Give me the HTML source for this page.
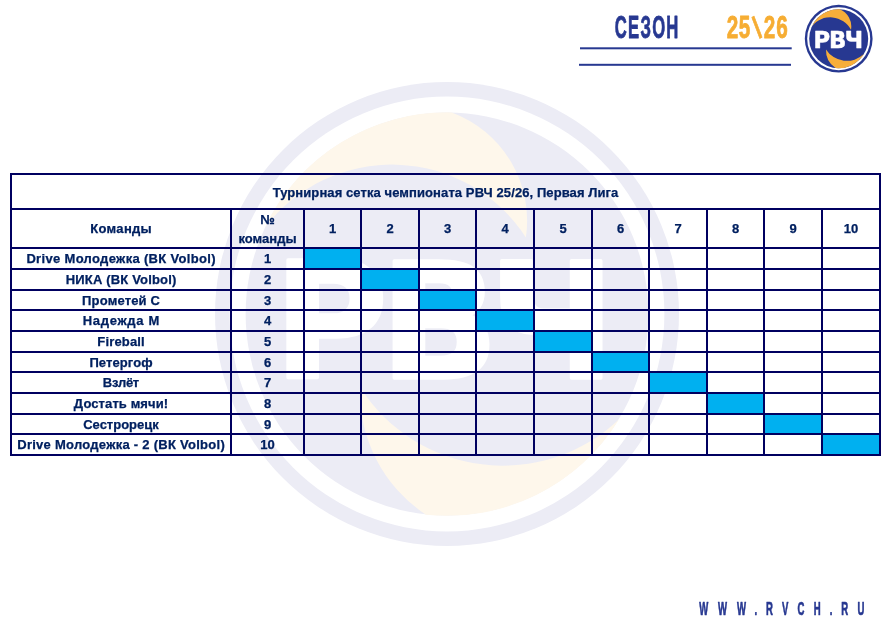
<!DOCTYPE html>
<html><head><meta charset="utf-8"><style>
html,body{margin:0;padding:0;background:#fff;}
body{width:894px;height:630px;position:relative;overflow:hidden;font-family:"Liberation Sans",Arial,sans-serif;}
.l{position:absolute;background:#000060;}
.b{position:absolute;background:#00B0F0;}
.c{position:absolute;display:flex;align-items:center;justify-content:center;font-weight:bold;font-size:13.0px;line-height:13.0px;color:#002060;white-space:nowrap;text-align:center;-webkit-text-stroke:0.25px #002060;}
.two{display:block;line-height:19px;}
svg{position:absolute;left:0;top:0;}
</style></head><body>
<svg width="894" height="630" viewBox="0 0 894 630">
 <g transform="translate(447 314) scale(2.32)"><circle r="100" fill="#ECECF5"/><circle r="93.7" fill="#FFFFFF"/><circle r="86.8" fill="#ECECF5"/>
  <path d="M -78.7 -37 A 87 87 0 0 1 2 -86.9 A 49.7 49.7 0 0 1 34 -33 A 68.8 68.8 0 0 0 -78.7 -37 Z" fill="#FEF7EB"/><path d="M 74.2 45.4 A 87 87 0 0 1 -9.1 86.5 A 63.4 63.4 0 0 1 -37.5 31.5 A 72.9 72.9 0 0 0 74.2 45.4 Z" fill="#FEF7EB"/>
  <text transform="translate(0 27.70) scale(0.9663 1)" x="-77.31 -29.86 18.89" y="0" font-family="'DejaVu Sans', sans-serif" font-weight="bold" font-size="69.48" fill="#FFFFFF" stroke="#FFFFFF" stroke-width="1.5" stroke-linejoin="round">РВЧ</text></g>
</svg>
<div class="b" style="left:305px;top:249px;width:55px;height:19px"></div><div class="b" style="left:362px;top:270px;width:56px;height:19px"></div><div class="b" style="left:420px;top:291px;width:55px;height:18px"></div><div class="b" style="left:477px;top:311px;width:56px;height:19px"></div><div class="b" style="left:535px;top:332px;width:56px;height:19px"></div><div class="b" style="left:593px;top:353px;width:55px;height:18px"></div><div class="b" style="left:650px;top:373px;width:56px;height:19px"></div><div class="b" style="left:708px;top:394px;width:55px;height:19px"></div><div class="b" style="left:765px;top:415px;width:56px;height:18px"></div><div class="b" style="left:823px;top:435px;width:56px;height:19px"></div>
<div class="l" style="left:10px;top:173px;width:871px;height:2px"></div><div class="l" style="left:10px;top:208px;width:871px;height:2px"></div><div class="l" style="left:10px;top:247px;width:871px;height:2px"></div><div class="l" style="left:10px;top:268px;width:871px;height:2px"></div><div class="l" style="left:10px;top:289px;width:871px;height:2px"></div><div class="l" style="left:10px;top:309px;width:871px;height:2px"></div><div class="l" style="left:10px;top:330px;width:871px;height:2px"></div><div class="l" style="left:10px;top:351px;width:871px;height:2px"></div><div class="l" style="left:10px;top:371px;width:871px;height:2px"></div><div class="l" style="left:10px;top:392px;width:871px;height:2px"></div><div class="l" style="left:10px;top:413px;width:871px;height:2px"></div><div class="l" style="left:10px;top:433px;width:871px;height:2px"></div><div class="l" style="left:10px;top:454px;width:871px;height:2px"></div><div class="l" style="left:10px;top:173px;width:2px;height:283px"></div><div class="l" style="left:230px;top:208px;width:2px;height:248px"></div><div class="l" style="left:303px;top:208px;width:2px;height:248px"></div><div class="l" style="left:360px;top:208px;width:2px;height:248px"></div><div class="l" style="left:418px;top:208px;width:2px;height:248px"></div><div class="l" style="left:475px;top:208px;width:2px;height:248px"></div><div class="l" style="left:533px;top:208px;width:2px;height:248px"></div><div class="l" style="left:591px;top:208px;width:2px;height:248px"></div><div class="l" style="left:648px;top:208px;width:2px;height:248px"></div><div class="l" style="left:706px;top:208px;width:2px;height:248px"></div><div class="l" style="left:763px;top:208px;width:2px;height:248px"></div><div class="l" style="left:821px;top:208px;width:2px;height:248px"></div><div class="l" style="left:879px;top:173px;width:2px;height:283px"></div>
<div class="c" style="left:12px;top:175px;width:867px;height:33px;"><span style="letter-spacing:0.09px;margin-left:0.09px;position:relative;top:0.8px">Турнирная сетка чемпионата РВЧ 25/26, Первая Лига</span></div><div class="c" style="left:12px;top:210px;width:218px;height:37px;"><span style="letter-spacing:0.3px;margin-left:0.3px;position:relative;top:0.0px">Команды</span></div><div class="c" style="left:232px;top:210px;width:71px;height:37px;"><span class="two">№<br>команды</span></div><div class="c" style="left:305px;top:210px;width:55px;height:37px;">1</div><div class="c" style="left:362px;top:210px;width:56px;height:37px;">2</div><div class="c" style="left:420px;top:210px;width:55px;height:37px;">3</div><div class="c" style="left:477px;top:210px;width:56px;height:37px;">4</div><div class="c" style="left:535px;top:210px;width:56px;height:37px;">5</div><div class="c" style="left:593px;top:210px;width:55px;height:37px;">6</div><div class="c" style="left:650px;top:210px;width:56px;height:37px;">7</div><div class="c" style="left:708px;top:210px;width:55px;height:37px;">8</div><div class="c" style="left:765px;top:210px;width:56px;height:37px;">9</div><div class="c" style="left:823px;top:210px;width:56px;height:37px;">10</div><div class="c" style="left:12px;top:249px;width:218px;height:19px;"><span style="letter-spacing:0.33px;margin-left:0.33px;position:relative;top:0.0px">Drive Молодежка (ВК Volbol)</span></div><div class="c" style="left:232px;top:249px;width:71px;height:19px;">1</div><div class="c" style="left:12px;top:270px;width:218px;height:19px;"><span style="letter-spacing:0.17px;margin-left:0.17px;position:relative;top:0.0px">НИКА (ВК Volbol)</span></div><div class="c" style="left:232px;top:270px;width:71px;height:19px;">2</div><div class="c" style="left:12px;top:291px;width:218px;height:18px;"><span style="letter-spacing:0.16px;margin-left:0.16px;position:relative;top:0.0px">Прометей С</span></div><div class="c" style="left:232px;top:291px;width:71px;height:18px;">3</div><div class="c" style="left:12px;top:311px;width:218px;height:19px;"><span style="letter-spacing:0.7px;margin-left:0.7px;position:relative;top:0.0px">Надежда М</span></div><div class="c" style="left:232px;top:311px;width:71px;height:19px;">4</div><div class="c" style="left:12px;top:332px;width:218px;height:19px;"><span style="letter-spacing:0.16px;margin-left:0.16px;position:relative;top:0.0px">Fireball</span></div><div class="c" style="left:232px;top:332px;width:71px;height:19px;">5</div><div class="c" style="left:12px;top:353px;width:218px;height:18px;"><span style="letter-spacing:0.1px;margin-left:0.1px;position:relative;top:0.0px">Петергоф</span></div><div class="c" style="left:232px;top:353px;width:71px;height:18px;">6</div><div class="c" style="left:12px;top:373px;width:218px;height:19px;"><span style="letter-spacing:-0.27px;margin-left:-0.27px;position:relative;top:0.0px">Взлёт</span></div><div class="c" style="left:232px;top:373px;width:71px;height:19px;">7</div><div class="c" style="left:12px;top:394px;width:218px;height:19px;"><span style="letter-spacing:0.1px;margin-left:0.1px;position:relative;top:0.0px">Достать мячи!</span></div><div class="c" style="left:232px;top:394px;width:71px;height:19px;">8</div><div class="c" style="left:12px;top:415px;width:218px;height:18px;">Сестрорецк</div><div class="c" style="left:232px;top:415px;width:71px;height:18px;">9</div><div class="c" style="left:12px;top:435px;width:218px;height:19px;"><span style="letter-spacing:0.27px;margin-left:0.27px;position:relative;top:0.0px">Drive Молодежка - 2 (ВК Volbol)</span></div><div class="c" style="left:232px;top:435px;width:71px;height:19px;">10</div>
<svg width="894" height="630" viewBox="0 0 894 630">
 <text transform="translate(0 38.30) scale(0.5184 1)" x="1186.08 1211.63 1235.77 1258.43 1285.17" y="0" font-family="'Liberation Sans', sans-serif" font-weight="bold" font-size="32.20" fill="#273891" stroke="#273891" stroke-width="0.7" vector-effect="non-scaling-stroke" stroke-linejoin="round">СЕЗОН</text>
 <text transform="translate(0 38.30) scale(0.6426 1)" x="1131.13 1149.51 1177.78 1188.55 1207.91" y="0" rotate="0 0 -20 0 0" dy="0 0 1.11 -1.11 0" font-family="'Liberation Sans', sans-serif" font-weight="bold" font-size="32.20" fill="#F6AD33" stroke="#F6AD33" stroke-width="0.7" vector-effect="non-scaling-stroke" stroke-linejoin="round">25\26</text>
 <rect x="580" y="47.3" width="211.7" height="2" fill="#273891"/>
 <rect x="579" y="63.8" width="212" height="2" fill="#273891"/>
 <g transform="translate(838.7 38.7) scale(0.339)"><circle r="100" fill="#273891"/><circle r="93" fill="#FFFFFF"/><circle r="87" fill="#273891"/>
  <path d="M -78.7 -37 A 87 87 0 0 1 3 -86.9 A 55 55 0 0 1 36.3 -26.3 A 69 69 0 0 0 -78.7 -37 Z" fill="#F7AE3A"/><path d="M 74.2 45.4 A 87 87 0 0 1 -9.1 86.5 A 63.4 63.4 0 0 1 -37.5 31.5 A 72.9 72.9 0 0 0 74.2 45.4 Z" fill="#F7AE3A"/>
  <text transform="translate(0 27.70) scale(0.9663 1)" x="-77.31 -29.86 18.89" y="0" font-family="'DejaVu Sans', sans-serif" font-weight="bold" font-size="69.48" fill="#FFFFFF" stroke="#FFFFFF" stroke-width="1.5" stroke-linejoin="round">РВЧ</text></g>
 <text transform="translate(0 614.70) scale(0.5247 1)" x="1332.82 1368.45 1404.66 1438.08 1460.09 1490.55 1519.75 1550.85 1581.29 1603.30 1634.41" y="0" font-family="'Liberation Sans', sans-serif" font-weight="bold" font-size="18.21" fill="#273891" stroke="#273891" stroke-width="0.55" vector-effect="non-scaling-stroke" stroke-linejoin="round">WWW.RVCH.RU</text>
</svg>
</body></html>
